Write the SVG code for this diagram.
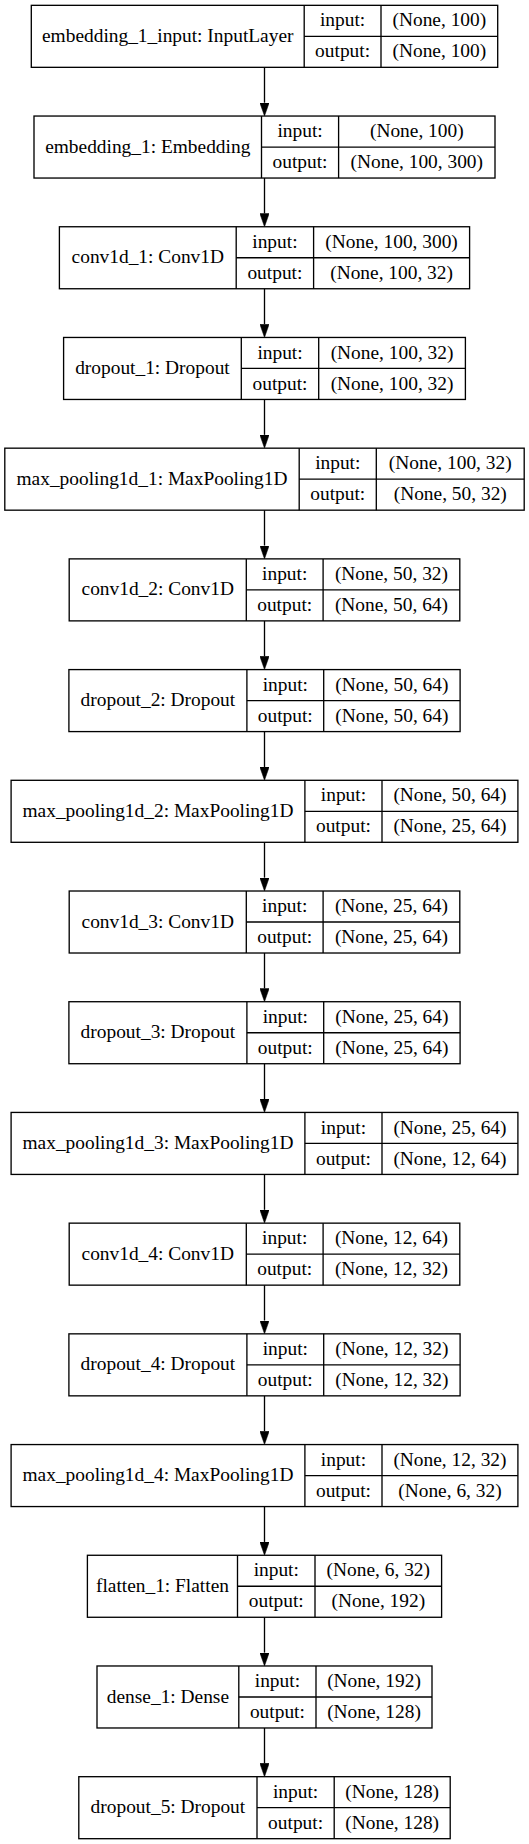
<svg xmlns="http://www.w3.org/2000/svg" width="529" height="1844" viewBox="0 0 529 1844">
<style>
.n rect, .n line { fill: #fff; stroke: #000; stroke-width: 1.33; }
.n text { font-family: "Liberation Serif", "Times New Roman", serif; font-size: 19.4px; text-anchor: middle; fill: #000; }
.c line { stroke: #000; stroke-width: 1.33; }
</style>
<defs>
<marker id="ah" markerUnits="userSpaceOnUse" markerWidth="13.33" markerHeight="9.34" viewBox="0 0 13.33 9.34" refX="0" refY="4.67" orient="auto">
<path d="M0,0 L13.33,4.67 L0,9.34 Z" fill="#000" stroke="#000" stroke-width="0.5"/>
</marker>
</defs>
<rect x="0" y="0" width="529" height="1844" fill="#fff"/>

<g class="c" id="connectors">
<line x1="264.5" y1="67.33" x2="264.5" y2="102.71" marker-end="url(#ah)"/>
<line x1="264.5" y1="178.04" x2="264.5" y2="213.42" marker-end="url(#ah)"/>
<line x1="264.5" y1="288.75" x2="264.5" y2="324.13" marker-end="url(#ah)"/>
<line x1="264.5" y1="399.46" x2="264.5" y2="434.84" marker-end="url(#ah)"/>
<line x1="264.5" y1="510.17" x2="264.5" y2="545.55" marker-end="url(#ah)"/>
<line x1="264.5" y1="620.88" x2="264.5" y2="656.26" marker-end="url(#ah)"/>
<line x1="264.5" y1="731.59" x2="264.5" y2="766.97" marker-end="url(#ah)"/>
<line x1="264.5" y1="842.3" x2="264.5" y2="877.68" marker-end="url(#ah)"/>
<line x1="264.5" y1="953.01" x2="264.5" y2="988.39" marker-end="url(#ah)"/>
<line x1="264.5" y1="1063.72" x2="264.5" y2="1099.1" marker-end="url(#ah)"/>
<line x1="264.5" y1="1174.43" x2="264.5" y2="1209.81" marker-end="url(#ah)"/>
<line x1="264.5" y1="1285.14" x2="264.5" y2="1320.52" marker-end="url(#ah)"/>
<line x1="264.5" y1="1395.85" x2="264.5" y2="1431.23" marker-end="url(#ah)"/>
<line x1="264.5" y1="1506.56" x2="264.5" y2="1541.94" marker-end="url(#ah)"/>
<line x1="264.5" y1="1617.27" x2="264.5" y2="1652.65" marker-end="url(#ah)"/>
<line x1="264.5" y1="1727.98" x2="264.5" y2="1763.36" marker-end="url(#ah)"/>
</g>

<g class="n" id="embedding_1_input" transform="translate(0,5.33)">
<rect x="31.3" y="0" width="466.4" height="62"/>
<line x1="304.2" y1="0" x2="304.2" y2="62"/><line x1="381" y1="0" x2="381" y2="62"/><line x1="304.2" y1="31" x2="497.7" y2="31"/>
<text x="167.75" y="36.6">embedding_1_input: InputLayer</text>
<text x="342.6" y="21.1">input:</text><text x="342.6" y="52.1">output:</text>
<text x="439.35" y="21.1">(None, 100)</text><text x="439.35" y="52.1">(None, 100)</text>
</g>

<g class="n" id="embedding_1" transform="translate(0,116.04)">
<rect x="34" y="0" width="461" height="62"/>
<line x1="261.5" y1="0" x2="261.5" y2="62"/><line x1="338.6" y1="0" x2="338.6" y2="62"/><line x1="261.5" y1="31" x2="495" y2="31"/>
<text x="147.75" y="36.6">embedding_1: Embedding</text>
<text x="300.05" y="21.1">input:</text><text x="300.05" y="52.1">output:</text>
<text x="416.8" y="21.1">(None, 100)</text><text x="416.8" y="52.1">(None, 100, 300)</text>
</g>

<g class="n" id="conv1d_1" transform="translate(0,226.75)">
<rect x="59.4" y="0" width="410.2" height="62"/>
<line x1="236.2" y1="0" x2="236.2" y2="62"/><line x1="313.6" y1="0" x2="313.6" y2="62"/><line x1="236.2" y1="31" x2="469.6" y2="31"/>
<text x="147.8" y="36.6">conv1d_1: Conv1D</text>
<text x="274.9" y="21.1">input:</text><text x="274.9" y="52.1">output:</text>
<text x="391.6" y="21.1">(None, 100, 300)</text><text x="391.6" y="52.1">(None, 100, 32)</text>
</g>

<g class="n" id="dropout_1" transform="translate(0,337.46)">
<rect x="63.6" y="0" width="401.8" height="62"/>
<line x1="241.3" y1="0" x2="241.3" y2="62"/><line x1="318.7" y1="0" x2="318.7" y2="62"/><line x1="241.3" y1="31" x2="465.4" y2="31"/>
<text x="152.45" y="36.6">dropout_1: Dropout</text>
<text x="280" y="21.1">input:</text><text x="280" y="52.1">output:</text>
<text x="392.05" y="21.1">(None, 100, 32)</text><text x="392.05" y="52.1">(None, 100, 32)</text>
</g>

<g class="n" id="max_pooling1d_1" transform="translate(0,448.17)">
<rect x="4.8" y="0" width="519.4" height="62"/>
<line x1="299.2" y1="0" x2="299.2" y2="62"/><line x1="376.3" y1="0" x2="376.3" y2="62"/><line x1="299.2" y1="31" x2="524.2" y2="31"/>
<text x="152" y="36.6">max_pooling1d_1: MaxPooling1D</text>
<text x="337.75" y="21.1">input:</text><text x="337.75" y="52.1">output:</text>
<text x="450.25" y="21.1">(None, 100, 32)</text><text x="450.25" y="52.1">(None, 50, 32)</text>
</g>

<g class="n" id="conv1d_2" transform="translate(0,558.88)">
<rect x="69.2" y="0" width="390.6" height="62"/>
<line x1="246.3" y1="0" x2="246.3" y2="62"/><line x1="323.1" y1="0" x2="323.1" y2="62"/><line x1="246.3" y1="31" x2="459.8" y2="31"/>
<text x="157.75" y="36.6">conv1d_2: Conv1D</text>
<text x="284.7" y="21.1">input:</text><text x="284.7" y="52.1">output:</text>
<text x="391.45" y="21.1">(None, 50, 32)</text><text x="391.45" y="52.1">(None, 50, 64)</text>
</g>

<g class="n" id="dropout_2" transform="translate(0,669.59)">
<rect x="68.9" y="0" width="391.2" height="62"/>
<line x1="246.9" y1="0" x2="246.9" y2="62"/><line x1="323.7" y1="0" x2="323.7" y2="62"/><line x1="246.9" y1="31" x2="460.1" y2="31"/>
<text x="157.9" y="36.6">dropout_2: Dropout</text>
<text x="285.3" y="21.1">input:</text><text x="285.3" y="52.1">output:</text>
<text x="391.9" y="21.1">(None, 50, 64)</text><text x="391.9" y="52.1">(None, 50, 64)</text>
</g>

<g class="n" id="max_pooling1d_2" transform="translate(0,780.3)">
<rect x="11.1" y="0" width="506.8" height="62"/>
<line x1="304.9" y1="0" x2="304.9" y2="62"/><line x1="382" y1="0" x2="382" y2="62"/><line x1="304.9" y1="31" x2="517.9" y2="31"/>
<text x="158" y="36.6">max_pooling1d_2: MaxPooling1D</text>
<text x="343.45" y="21.1">input:</text><text x="343.45" y="52.1">output:</text>
<text x="449.95" y="21.1">(None, 50, 64)</text><text x="449.95" y="52.1">(None, 25, 64)</text>
</g>

<g class="n" id="conv1d_3" transform="translate(0,891.01)">
<rect x="69.2" y="0" width="390.6" height="62"/>
<line x1="246.3" y1="0" x2="246.3" y2="62"/><line x1="323.1" y1="0" x2="323.1" y2="62"/><line x1="246.3" y1="31" x2="459.8" y2="31"/>
<text x="157.75" y="36.6">conv1d_3: Conv1D</text>
<text x="284.7" y="21.1">input:</text><text x="284.7" y="52.1">output:</text>
<text x="391.45" y="21.1">(None, 25, 64)</text><text x="391.45" y="52.1">(None, 25, 64)</text>
</g>

<g class="n" id="dropout_3" transform="translate(0,1001.72)">
<rect x="68.9" y="0" width="391.2" height="62"/>
<line x1="246.9" y1="0" x2="246.9" y2="62"/><line x1="323.7" y1="0" x2="323.7" y2="62"/><line x1="246.9" y1="31" x2="460.1" y2="31"/>
<text x="157.9" y="36.6">dropout_3: Dropout</text>
<text x="285.3" y="21.1">input:</text><text x="285.3" y="52.1">output:</text>
<text x="391.9" y="21.1">(None, 25, 64)</text><text x="391.9" y="52.1">(None, 25, 64)</text>
</g>

<g class="n" id="max_pooling1d_3" transform="translate(0,1112.43)">
<rect x="11.1" y="0" width="506.8" height="62"/>
<line x1="304.9" y1="0" x2="304.9" y2="62"/><line x1="382" y1="0" x2="382" y2="62"/><line x1="304.9" y1="31" x2="517.9" y2="31"/>
<text x="158" y="36.6">max_pooling1d_3: MaxPooling1D</text>
<text x="343.45" y="21.1">input:</text><text x="343.45" y="52.1">output:</text>
<text x="449.95" y="21.1">(None, 25, 64)</text><text x="449.95" y="52.1">(None, 12, 64)</text>
</g>

<g class="n" id="conv1d_4" transform="translate(0,1223.14)">
<rect x="69.2" y="0" width="390.6" height="62"/>
<line x1="246.3" y1="0" x2="246.3" y2="62"/><line x1="323.1" y1="0" x2="323.1" y2="62"/><line x1="246.3" y1="31" x2="459.8" y2="31"/>
<text x="157.75" y="36.6">conv1d_4: Conv1D</text>
<text x="284.7" y="21.1">input:</text><text x="284.7" y="52.1">output:</text>
<text x="391.45" y="21.1">(None, 12, 64)</text><text x="391.45" y="52.1">(None, 12, 32)</text>
</g>

<g class="n" id="dropout_4" transform="translate(0,1333.85)">
<rect x="68.9" y="0" width="391.2" height="62"/>
<line x1="246.9" y1="0" x2="246.9" y2="62"/><line x1="323.7" y1="0" x2="323.7" y2="62"/><line x1="246.9" y1="31" x2="460.1" y2="31"/>
<text x="157.9" y="36.6">dropout_4: Dropout</text>
<text x="285.3" y="21.1">input:</text><text x="285.3" y="52.1">output:</text>
<text x="391.9" y="21.1">(None, 12, 32)</text><text x="391.9" y="52.1">(None, 12, 32)</text>
</g>

<g class="n" id="max_pooling1d_4" transform="translate(0,1444.56)">
<rect x="11.1" y="0" width="506.8" height="62"/>
<line x1="304.9" y1="0" x2="304.9" y2="62"/><line x1="382" y1="0" x2="382" y2="62"/><line x1="304.9" y1="31" x2="517.9" y2="31"/>
<text x="158" y="36.6">max_pooling1d_4: MaxPooling1D</text>
<text x="343.45" y="21.1">input:</text><text x="343.45" y="52.1">output:</text>
<text x="449.95" y="21.1">(None, 12, 32)</text><text x="449.95" y="52.1">(None, 6, 32)</text>
</g>

<g class="n" id="flatten_1" transform="translate(0,1555.27)">
<rect x="87.4" y="0" width="354.2" height="62"/>
<line x1="237.5" y1="0" x2="237.5" y2="62"/><line x1="315" y1="0" x2="315" y2="62"/><line x1="237.5" y1="31" x2="441.6" y2="31"/>
<text x="162.45" y="36.6">flatten_1: Flatten</text>
<text x="276.25" y="21.1">input:</text><text x="276.25" y="52.1">output:</text>
<text x="378.3" y="21.1">(None, 6, 32)</text><text x="378.3" y="52.1">(None, 192)</text>
</g>

<g class="n" id="dense_1" transform="translate(0,1665.98)">
<rect x="97" y="0" width="335" height="62"/>
<line x1="238.8" y1="0" x2="238.8" y2="62"/><line x1="316" y1="0" x2="316" y2="62"/><line x1="238.8" y1="31" x2="432" y2="31"/>
<text x="167.9" y="36.6">dense_1: Dense</text>
<text x="277.4" y="21.1">input:</text><text x="277.4" y="52.1">output:</text>
<text x="374" y="21.1">(None, 192)</text><text x="374" y="52.1">(None, 128)</text>
</g>

<g class="n" id="dropout_5" transform="translate(0,1776.69)">
<rect x="78.8" y="0" width="371.4" height="62"/>
<line x1="257" y1="0" x2="257" y2="62"/><line x1="334.2" y1="0" x2="334.2" y2="62"/><line x1="257" y1="31" x2="450.2" y2="31"/>
<text x="167.9" y="36.6">dropout_5: Dropout</text>
<text x="295.6" y="21.1">input:</text><text x="295.6" y="52.1">output:</text>
<text x="392.2" y="21.1">(None, 128)</text><text x="392.2" y="52.1">(None, 128)</text>
</g>
</svg>
